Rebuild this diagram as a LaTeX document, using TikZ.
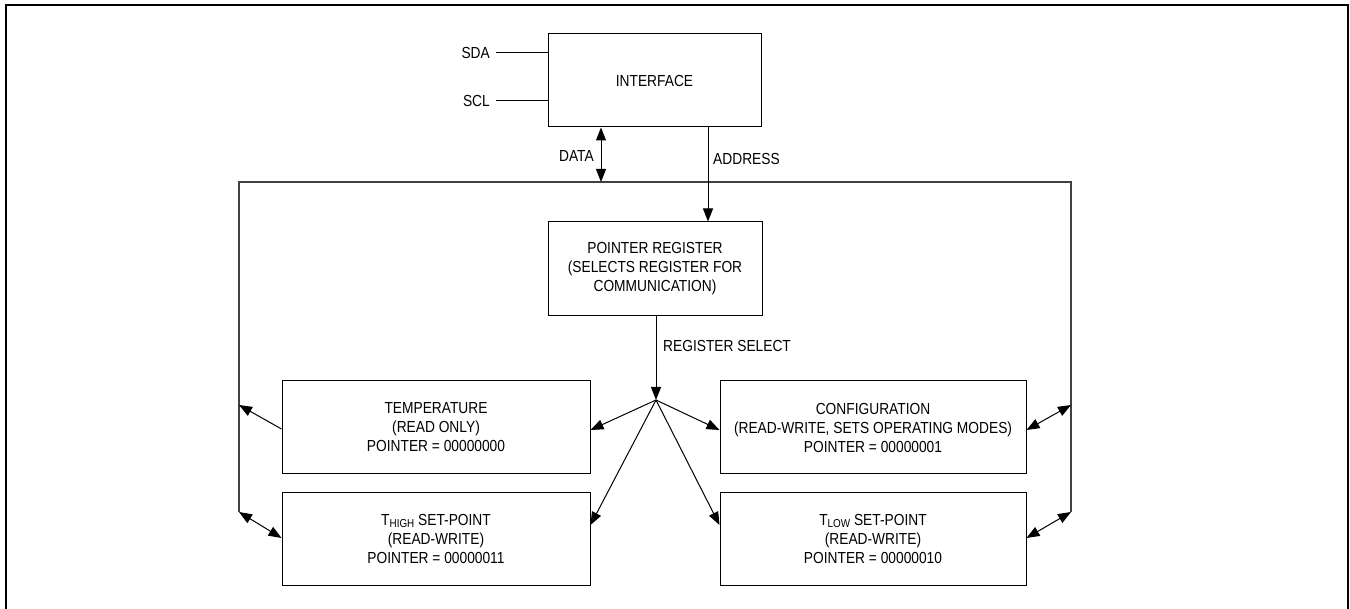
\documentclass[tikz,border=0pt]{standalone}
\usepackage{fontspec}
\setmainfont{Liberation Sans}[FakeStretch=0.86]
\usetikzlibrary{arrows.meta}
\begin{document}
\begin{tikzpicture}[x=1pt,y=-1pt,
  box/.style={draw,line width=1pt,inner sep=0pt,align=center,font=\fontsize{16}{19}\selectfont},
  lbl/.style={inner sep=0pt,font=\fontsize{16}{19}\selectfont},
  conn/.style={line width=1pt},
  bus/.style={line width=1.2pt,draw=black!75},
  tip/.style={-{Triangle[length=13pt,width=10pt]}},
  dtip/.style={{Triangle[length=13pt,width=10pt]}-{Triangle[length=13pt,width=10pt]}}]
\useasboundingbox (0,0) rectangle (1350,609);
\draw[line width=2.2pt] (6,620) -- (6,5) -- (1348,5) -- (1348,620);
\newcommand\sub[1]{{\fontsize{11.5}{11.5}\selectfont\raisebox{-2.5pt}{#1}}}
% boxes
\node[box,minimum width=213pt,minimum height=93pt] (iface) at (654.5,80.5) {INTERFACE};
\node[box,minimum width=214pt,minimum height=94pt] (ptr) at (655,269) {POINTER REGISTER\\(SELECTS REGISTER FOR\\COMMUNICATION)};
\node[box,minimum width=308pt,minimum height=93pt] (temp) at (436,427.5) {TEMPERATURE\\(READ ONLY)\\POINTER = 00000000};
\node[box,minimum width=306pt,minimum height=93pt] (conf) at (873,427.5) {CONFIGURATION\\(READ-WRITE, SETS OPERATING MODES)\\POINTER = 00000001};
\node[box,minimum width=308pt,minimum height=93pt] (thigh) at (436,538.5) {T\sub{HIGH} SET-POINT\\(READ-WRITE)\\POINTER = 00000011};
\node[box,minimum width=306pt,minimum height=93pt] (tlow) at (873,538.5) {T\sub{LOW} SET-POINT\\(READ-WRITE)\\POINTER = 00000010};
% labels
\node[lbl,anchor=east] (sda) at (490,53) {SDA};
\node[lbl,anchor=east] (scl) at (490,101) {SCL};
\node[lbl,anchor=east] (datal) at (594,156) {DATA};
\node[lbl,anchor=west] (addrl) at (713,159) {ADDRESS};
\node[lbl,anchor=west] (rsl) at (663,346) {REGISTER SELECT};
% bus coordinates
\coordinate (bl) at (239,512);
\coordinate (btl) at (239,182);
\coordinate (btr) at (1071,182);
\coordinate (br) at (1071,512);
\coordinate (bdata) at (601,182);
\coordinate (btemp) at (239,405);
\coordinate (bconf) at (1071,405);
\coordinate (fan) at (656,400);
\draw[bus] (bl) -- (btl) -- (btr) -- (br);
% SDA / SCL
\draw[conn] (sda.east) ++(6,0) coordinate (sdae) -- ([yshift=27.5pt]iface.west);
\draw[conn] (scl.east) ++(6,0) coordinate (scle) -- ([yshift=-20.5pt]iface.west);
% DATA / ADDRESS
\draw[conn,dtip] (bdata |- iface.south) -- (bdata);
\draw[conn,tip] (iface.south -| 708,0) -- (ptr.north -| 708,0);
% register select
\draw[conn,tip] (ptr.south -| fan) -- (fan);
\draw[conn,tip] (fan) -- ([yshift=-2.5pt]temp.east);
\draw[conn,tip] (fan) -- ([yshift=-2.5pt]conf.west);
\draw[conn,tip] (fan) -- ([yshift=13.5pt]thigh.east);
\draw[conn,tip] (fan) -- ([yshift=13.5pt]tlow.west);
% bus connections
\draw[conn,tip] ([yshift=-1.5pt]temp.west) -- (btemp);
\draw[conn,dtip] (bl) -- ([yshift=0.5pt]thigh.west);
\draw[conn,dtip] ([yshift=-2.5pt]conf.east) -- (bconf);
\draw[conn,dtip] ([yshift=0.5pt]tlow.east) -- (br);
\end{tikzpicture}
\end{document}
